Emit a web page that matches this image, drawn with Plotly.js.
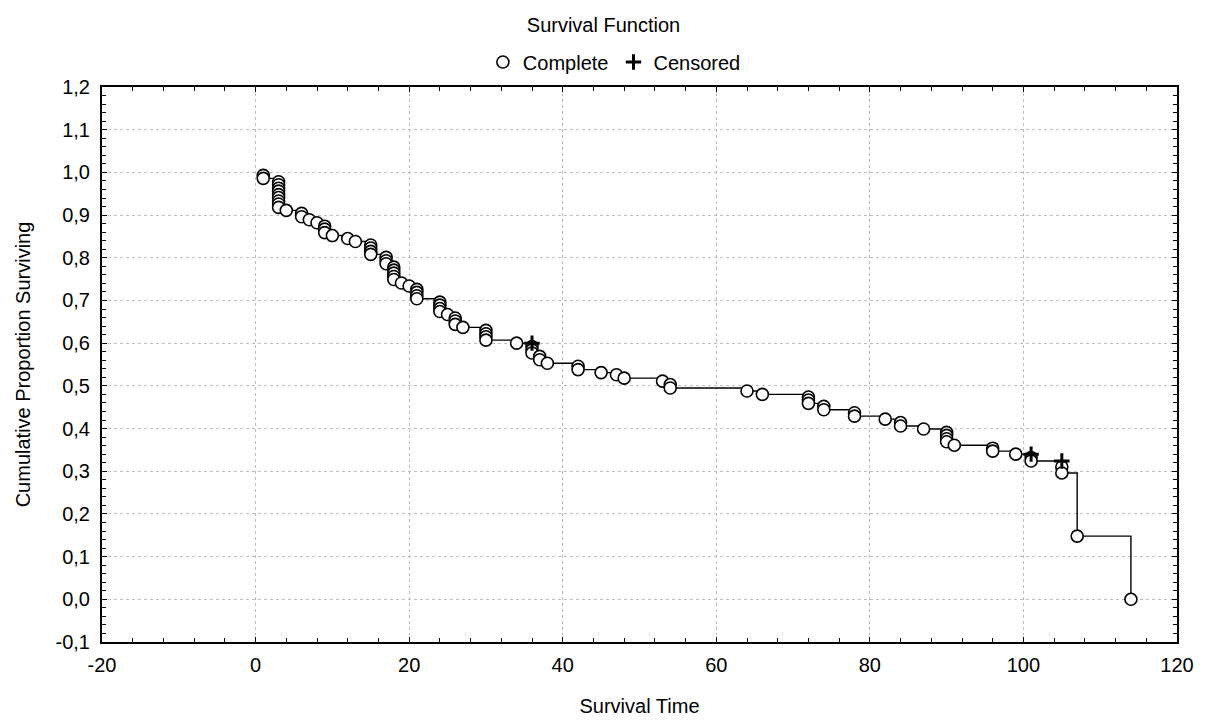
<!DOCTYPE html>
<html>
<head>
<meta charset="utf-8">
<script src="https://cdn.plot.ly/plotly-3.0.1.min.js"></script>
<style>html,body{margin:0;padding:0;background:#fff;}#chart{width:1207px;height:720px;}</style>
</head>
<body>
<div id="chart"></div>
<script>
// Complete (event) times and cumulative proportion surviving after each event
const completeTimes = [1,1, 3,3,3,3,3,3,3,3,3, 4, 6,6, 7, 8, 9,9,9, 10, 12, 13,
  15,15,15,15, 17,17,17, 18,18,18,18,18, 19, 20, 21,21,21,21, 24,24,24,24, 25,
  26,26,26, 27, 30,30,30,30, 34, 36,36,36, 37,37, 38, 42,42, 45, 47, 48, 53, 54,54,
  64, 66, 72,72,72, 74,74, 78,78, 82, 84,84, 87, 90,90,90,90, 91, 96,96, 99,
  101,101, 105,105, 107, 114];
const completeSurv = [0.993,0.986, 0.978,0.971,0.963,0.956,0.948,0.941,0.933,0.926,0.918, 0.911,
  0.904,0.896, 0.889, 0.882, 0.874,0.867,0.859, 0.852, 0.845, 0.838,
  0.830,0.823,0.815,0.808, 0.801,0.793,0.786, 0.778,0.771,0.764,0.756,0.749, 0.741, 0.734,
  0.726,0.719,0.711,0.704, 0.696,0.689,0.681,0.674, 0.667, 0.659,0.652,0.644, 0.637,
  0.630,0.622,0.615,0.607, 0.600, 0.592,0.584,0.577, 0.569,0.561, 0.553, 0.546,0.538,
  0.531, 0.526, 0.518, 0.511, 0.503,0.495, 0.488, 0.480, 0.474,0.467,0.459, 0.452,0.444,
  0.437,0.429, 0.422, 0.414,0.406, 0.399, 0.391,0.384,0.376,0.369, 0.361, 0.354,0.347,
  0.340, 0.332,0.324, 0.310,0.296, 0.148, 0.000];
// Censored observations
const censoredTimes = [36, 101, 105];
const censoredSurv = [0.600, 0.340, 0.324];

const xTickVals = [-20, 0, 20, 40, 60, 80, 100, 120];
const xTickText = ['-20', '0', '20', '40', '60', '80', '100', '120'];
const yTickVals = [-0.1, 0, 0.1, 0.2, 0.3, 0.4, 0.5, 0.6, 0.7, 0.8, 0.9, 1.0, 1.1, 1.2];
const yTickText = ['-0,1','0,0','0,1','0,2','0,3','0,4','0,5','0,6','0,7','0,8','0,9','1,0','1,1','1,2'];

const FONT = 'Liberation Sans, Arial, sans-serif';

const traces = [
  {
    x: completeTimes, y: completeSurv, type: 'scatter', mode: 'lines',
    line: {shape: 'hv', color: '#000', width: 1.4},
    showlegend: false, hoverinfo: 'skip'
  },
  {
    x: completeTimes, y: completeSurv, type: 'scatter', mode: 'markers', name: 'Complete',
    marker: {symbol: 'circle', size: 12, color: '#fff', line: {color: '#000', width: 1.6}}
  },
  {
    x: censoredTimes, y: censoredSurv, type: 'scatter', mode: 'markers', name: 'Censored',
    marker: {symbol: 'cross-thin-open', size: 11, color: '#000', line: {color: '#000', width: 3}}
  }
];

const axisCommon = {
  showline: true, linecolor: '#000', linewidth: 2, mirror: 'allticks',
  ticks: 'inside', ticklen: 5, tickcolor: '#000', tickwidth: 1,
  showgrid: true, gridcolor: '#bdbdbd', griddash: 'dot', gridwidth: 1,
  zeroline: false, automargin: false,
  tickfont: {family: FONT, size: 20, color: '#000'}
};

const layout = {
  width: 1207, height: 720, autosize: false,
  paper_bgcolor: '#fff', plot_bgcolor: '#fff',
  margin: {l: 102, r: 30, t: 87, b: 78, autoexpand: false},
  font: {family: FONT, color: '#000'},
  title: {text: 'Survival Function', font: {family: FONT, size: 20, color: '#000'},
          x: 0.5, xref: 'container', xanchor: 'center', y: 0.965, yref: 'container', yanchor: 'middle'},
  showlegend: true,
  legend: {orientation: 'h', xref: 'container', x: 0.509, xanchor: 'center',
           y: 1.045, yanchor: 'middle', font: {family: FONT, size: 20, color: '#000'},
           bgcolor: 'rgba(0,0,0,0)', itemwidth: 30, tracegroupgap: 0},
  xaxis: Object.assign({}, axisCommon, {
    range: [-20, 120], tickmode: 'array', tickvals: xTickVals, ticktext: xTickText,
    ticklabelstandoff: 4,
    minor: {dtick: 4, tick0: 0, ticks: 'inside', ticklen: 4, tickcolor: '#000', showgrid: false},
    title: {text: 'Survival Time', font: {family: FONT, size: 20, color: '#000'}, standoff: 24}
  }),
  yaxis: Object.assign({}, axisCommon, {
    range: [-0.1, 1.2], tickmode: 'array', tickvals: yTickVals, ticktext: yTickText,
    ticklabelstandoff: 6,
    minor: {dtick: 0.02, tick0: 0, ticks: 'inside', ticklen: 4, tickcolor: '#000', showgrid: false},
    title: {text: 'Cumulative Proportion Surviving', font: {family: FONT, size: 20, color: '#000'}, standoff: 20}
  })
};

Plotly.newPlot('chart', traces, layout, {displayModeBar: false, staticPlot: true});
</script>
</body>
</html>
